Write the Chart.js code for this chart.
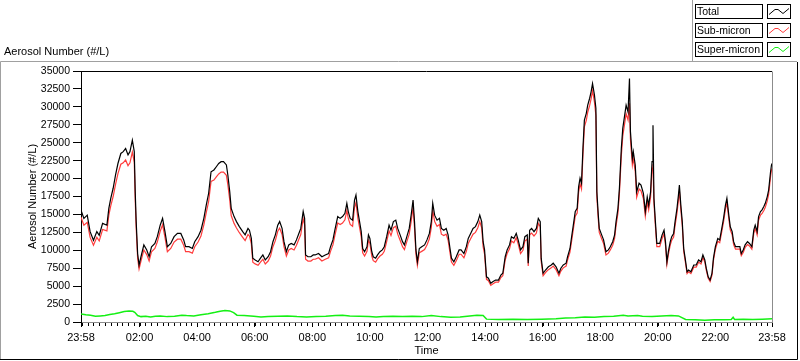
<!DOCTYPE html>
<html>
<head>
<meta charset="utf-8">
<script src="https://cdn.jsdelivr.net/npm/chart.js@4.4.1/dist/chart.umd.min.js"></script>
<style>
  html, body { margin: 0; padding: 0; background: #fff; }
  canvas { display: block; }
</style>
</head>
<body>
<canvas id="chart" width="800" height="361"></canvas>
<script>
// minutes since 23:58 (start of the record)
const times = [0,6,13,19,26,33,38,45,54,58,62,67,72,77,83,88,93,98,102,107,111,113,115,118,121,125,131,137,142,147,154,159,165,170,175,180,187,194,201,208,214,218,225,232,237,244,250,256,261,266,271,277,282,287,292,297,303,306,310,313,319,324,330,337,342,348,351,355,358,363,369,374,379,384,390,395,400,405,410,414,419,423,428,433,438,444,449,454,458,463,466,468,473,479,484,488,495,502,509,516,520,525,529,535,540,545,550,554,557,561,566,570,573,577,580,584,587,591,596,599,602,606,609,614,618,623,628,632,637,642,646,651,656,660,665,670,674,679,684,688,692,695,698,701,705,710,716,721,726,730,733,737,742,747,751,756,761,765,769,772,777,782,788,792,798,803,807,812,817,822,827,831,835,838,841,845,849,854,858,864,870,875,879,884,888,893,897,902,907,911,916,921,925,930,932,935,939,944,949,953,957,959,963,968,974,980,984,990,996,1000,1005,1011,1014,1019,1023,1027,1030,1034,1037,1040,1043,1046,1049,1053,1056,1060,1063,1066,1070,1073,1075,1078,1080,1085,1089,1094,1099,1103,1108,1112,1115,1119,1122,1126,1129,1133,1136,1140,1143,1145,1149,1151,1155,1158,1163,1167,1172,1176,1180,1183,1187,1190,1192,1194,1197,1200,1206,1211,1215,1218,1221,1224,1228,1231,1235,1238,1242,1245,1247,1250,1253,1256,1259,1263,1266,1271,1277,1282,1287,1292,1296,1300,1303,1307,1311,1315,1318,1322,1327,1331,1336,1339,1343,1346,1350,1353,1357,1360,1364,1368,1373,1376,1380,1384,1389,1393,1398,1402,1405,1409,1412,1416,1419,1423,1426,1430,1433,1437,1439,1440];

const total = [15600,14450,14900,12600,11400,12600,12100,13750,13500,15850,17250,18650,20500,22100,23500,23750,24200,23300,23750,25350,23750,18150,14000,9550,7950,9100,10750,10050,9100,10500,10950,11900,13500,14450,12600,10500,10950,11900,12350,12350,11450,10500,10500,10250,11200,11900,12800,14450,16300,17950,20950,21200,21650,22100,22350,22350,21900,20500,18150,15850,14700,14000,13300,12600,12150,13050,12800,11650,8900,8650,8400,8900,9350,8650,9100,9800,11200,12150,13500,14000,13050,11200,9800,10750,10950,10750,11450,12350,13050,15400,14450,9350,9100,9100,9350,9350,9550,9100,9350,9550,10500,11450,12800,14700,14450,14700,15150,16550,15400,14450,14200,17000,17700,15400,14200,12600,10250,9800,10500,12150,11650,9800,9100,8900,9350,9800,10050,10500,11900,13500,12800,14000,14200,13050,12150,11200,10750,11900,13050,14900,17000,14000,10050,8400,10250,10500,10750,11450,12350,14000,16550,14900,14200,14450,13050,12800,13050,12150,10250,8900,8400,9100,10050,10050,9550,10500,11650,12350,13050,13300,14000,14900,14000,11200,10050,6300,6100,5400,5600,5850,5850,6550,6800,9100,10050,10750,11900,11650,12350,11450,10050,10500,11900,12150,8200,12800,13050,12600,13050,14450,14000,8900,6800,7250,7700,7950,8200,7700,6800,7500,7950,8200,9100,10250,12150,14000,15400,15850,18850,20050,19350,24200,28150,29100,30250,31200,32100,33250,31650,29800,18150,14900,13050,12150,11450,9800,10050,10500,11200,12150,14000,15850,18650,24200,27000,28850,30250,29300,33950,26550,22800,23750,21900,18150,19350,19100,17950,15400,17450,16300,18150,22350,27450,17250,14000,10950,10950,12150,12800,11200,8400,9800,11200,11900,12350,14000,15850,17700,19100,16300,14000,10250,8900,7000,7250,7000,7950,7950,8650,8400,9350,8650,7500,6300,5850,6800,8900,10500,11650,11450,13300,14450,16300,17250,14900,13300,12600,11200,10500,10500,10500,9550,10050,10750,11200,10950,10500,12800,13500,12600,14700,15400,15600,16100,16550,17450,18400,20950,21900,22100];

const subMicron = [14600,13500,13900,11800,10700,11800,11300,12900,12700,14900,16200,17500,19200,20700,22000,22200,22600,21800,22200,23700,22300,17000,13100,8900,7400,8500,10050,9400,8500,9800,10250,11150,12650,13550,11800,9800,10250,11150,11550,11550,10700,9800,9800,9600,10500,11150,12000,13550,15250,16800,19600,19800,20250,20650,20900,20900,20450,19150,17000,14850,13750,13100,12450,11800,11350,12200,12000,10900,8350,8100,7900,8350,8750,8100,8500,9200,10500,11350,12650,13100,12200,10500,9200,10050,10250,10050,10700,11550,12200,14400,13550,8750,8500,8500,8750,8750,8950,8500,8750,8950,9850,10750,12050,13800,13600,13800,14250,15550,14450,13600,13350,16000,16650,14450,13350,11850,9650,9200,9850,11400,10950,9200,8550,8350,8800,9200,9450,9850,11200,12700,12050,13150,13350,12250,11400,10500,10100,11200,12250,14000,16000,13150,9450,7900,9650,9850,10100,10750,11600,13150,15550,14000,13350,13600,12250,12050,12250,11400,9650,8350,7900,8550,9450,9450,8950,9850,10950,11600,12250,12500,13150,14000,13150,10500,9450,5950,5750,5100,5300,5550,5550,6200,6450,8650,9550,10200,11300,11050,11750,10900,9550,10000,11300,11550,7800,12150,12400,12000,12400,13750,13300,8450,6450,6900,7300,7550,7800,7300,6450,7100,7550,7800,8650,9750,11550,13400,14750,15200,18100,19250,18550,23300,27200,28100,29250,30200,31100,32250,30650,28800,17450,14300,12500,11600,10950,9350,9600,10050,10700,11650,13400,15200,17900,23200,25900,27700,29050,28150,30500,25500,21900,22800,21000,17400,18550,18300,17200,14750,16750,15650,17400,21450,22000,16550,13400,10500,10500,11650,12300,10750,8050,9400,10750,11400,11850,13450,15200,17000,18300,15650,13450,9850,8550,6750,7000,6750,7650,7650,8350,8100,9000,8350,7250,6100,5650,6550,8600,10150,11250,11050,12850,13950,15750,16650,14400,12850,12150,10800,10150,10150,10150,9250,9700,10400,10800,10600,10150,12350,13050,12150,14200,14900,15100,15550,16000,16850,17800,20250,21200,21400];

const superTimes = [0,10,20,30,40,50,60,70,80,90,100,108,112,118,125,135,145,155,165,180,195,210,220,235,250,265,280,290,300,310,318,325,340,360,375,390,410,430,450,470,490,510,530,545,560,580,600,615,630,650,670,690,710,730,750,770,790,810,825,838,845,870,900,930,960,990,1010,1030,1050,1070,1090,1110,1130,1140,1160,1170,1190,1210,1230,1245,1260,1280,1300,1320,1340,1355,1359,1362,1380,1400,1420,1440];
const superMicron = [1100,1000,950,800,850,900,1050,1150,1300,1450,1550,1500,1350,900,750,800,700,800,850,750,800,950,900,850,1000,1150,1350,1500,1600,1550,1300,950,900,800,700,750,800,850,750,700,750,800,900,950,850,800,750,700,750,800,750,800,750,900,750,650,700,850,950,900,400,350,400,350,400,450,550,600,700,650,750,800,950,850,900,800,750,850,900,850,350,300,250,300,300,350,650,350,400,350,400,450];

const tickTimes = [0,122,242,362,482,602,722,842,962,1082,1202,1322,1440];
const tickLabels = ['23:58','02:00','04:00','06:00','08:00','10:00','12:00','14:00','16:00','18:00','20:00','22:00','23:58'];

const seriesNames = ['Total', 'Sub-micron', 'Super-micron'];
const seriesColors = ['#000000', '#ff3c3c', '#14f014'];

const toPoints = (xs, ys) => xs.map((x, i) => ({ x: x, y: ys[i] }));

const FONT = '"Liberation Sans", Arial, sans-serif';

// frame, legend boxes, minor ticks and plot border (LabVIEW look)
const decorPlugin = {
    id: 'decor',
    afterDraw(chart) {
        const ctx = chart.ctx;
        const area = chart.chartArea;
        const xs = chart.scales.x;
        ctx.save();
        ctx.lineWidth = 1;

        // plot border top / right
        ctx.strokeStyle = '#000';
        ctx.beginPath();
        ctx.moveTo(area.left, 71.5);
        ctx.lineTo(area.right, 71.5);
        ctx.stroke();
        ctx.strokeStyle = '#8c8c8c';
        ctx.beginPath();
        ctx.moveTo(Math.round(area.right) + 0.5, 71.5);
        ctx.lineTo(Math.round(area.right) + 0.5, area.bottom);
        ctx.stroke();

        // minor ticks every 12 min
        ctx.strokeStyle = '#000';
        ctx.beginPath();
        for (let v = 2; v < 1440; v += 12) {
            const px = Math.round(xs.getPixelForValue(v)) + 0.5;
            ctx.moveTo(px, area.bottom + 1);
            ctx.lineTo(px, area.bottom + 4);
        }
        ctx.stroke();

        // outer frame
        ctx.strokeStyle = '#a0a0a0';
        ctx.beginPath();
        ctx.moveTo(0.5, 360);
        ctx.lineTo(0.5, 61.5);
        ctx.lineTo(797, 61.5);
        ctx.moveTo(692.5, 0);
        ctx.lineTo(692.5, 61.5);
        ctx.stroke();
        ctx.strokeStyle = '#000';
        ctx.beginPath();
        ctx.moveTo(0, 359.5);
        ctx.lineTo(797.5, 359.5);
        ctx.lineTo(797.5, 62);
        ctx.stroke();

        // graph title
        ctx.fillStyle = '#000';
        ctx.font = '11px ' + FONT;
        ctx.textBaseline = 'middle';
        ctx.textAlign = 'left';
        ctx.fillText('Aerosol Number (#/L)', 4, 52);

        // legend
        ctx.font = '10.5px ' + FONT;
        seriesNames.forEach((name, i) => {
            const top = 4.5 + i * 19;
            ctx.fillStyle = '#fff';
            ctx.fillRect(695.5, top, 67, 14);
            ctx.fillRect(767.5, top, 23, 14);
            ctx.strokeStyle = '#000';
            ctx.strokeRect(695.5, top, 67, 14);
            ctx.strokeRect(767.5, top, 23, 14);
            ctx.fillStyle = '#000';
            ctx.fillText(name, 697, top + 7.5);
            ctx.strokeStyle = seriesColors[i];
            ctx.beginPath();
            ctx.moveTo(769, top + 10);
            ctx.lineTo(775, top + 5);
            ctx.lineTo(778, top + 5);
            ctx.lineTo(783, top + 9);
            ctx.lineTo(789, top + 4);
            ctx.stroke();
        });
        ctx.restore();
    }
};

new Chart(document.getElementById('chart'), {
    type: 'line',
    data: {
        datasets: [
            { label: seriesNames[0], data: toPoints(times, total), borderColor: seriesColors[0], borderWidth: 1.2 },
            { label: seriesNames[1], data: toPoints(times, subMicron), borderColor: seriesColors[1], borderWidth: 1.2 },
            { label: seriesNames[2], data: toPoints(superTimes, superMicron), borderColor: seriesColors[2], borderWidth: 1.5 }
        ]
    },
    options: {
        responsive: false,
        animation: false,
        layout: { padding: { left: 0, top: 71, right: 28, bottom: 0 } },
        elements: {
            point: { radius: 0 },
            line: { borderWidth: 1, tension: 0, fill: false }
        },
        plugins: {
            legend: { display: false },
            tooltip: { enabled: false }
        },
        scales: {
            x: {
                type: 'linear',
                min: 0,
                max: 1440,
                afterBuildTicks: scale => { scale.ticks = tickTimes.map(v => ({ value: v })); },
                afterFit: scale => { scale.height = 39; },
                ticks: {
                    autoSkip: false,
                    maxRotation: 0,
                    padding: 4,
                    color: '#000',
                    font: { family: FONT, size: 11 },
                    callback: (value, index) => tickLabels[index]
                },
                grid: { drawOnChartArea: false, tickLength: 5, color: '#000' },
                border: { color: '#8c8c8c' },
                title: {
                    display: true,
                    text: 'Time',
                    color: '#000',
                    font: { family: FONT, size: 11 },
                    padding: { top: 0, bottom: 3 }
                }
            },
            y: {
                min: 0,
                max: 35000,
                afterFit: scale => { scale.width = 81; },
                ticks: {
                    stepSize: 2500,
                    padding: 3,
                    color: '#000',
                    font: { family: FONT, size: 10.5 },
                    callback: value => String(value)
                },
                grid: { drawOnChartArea: false, tickLength: 8, color: '#000' },
                border: { color: '#000' },
                title: {
                    display: true,
                    text: 'Aerosol Number (#/L)',
                    color: '#000',
                    font: { family: FONT, size: 11 },
                    padding: { top: 26, bottom: 0 }
                }
            }
        }
    },
    plugins: [decorPlugin]
});
</script>
</body>
</html>
